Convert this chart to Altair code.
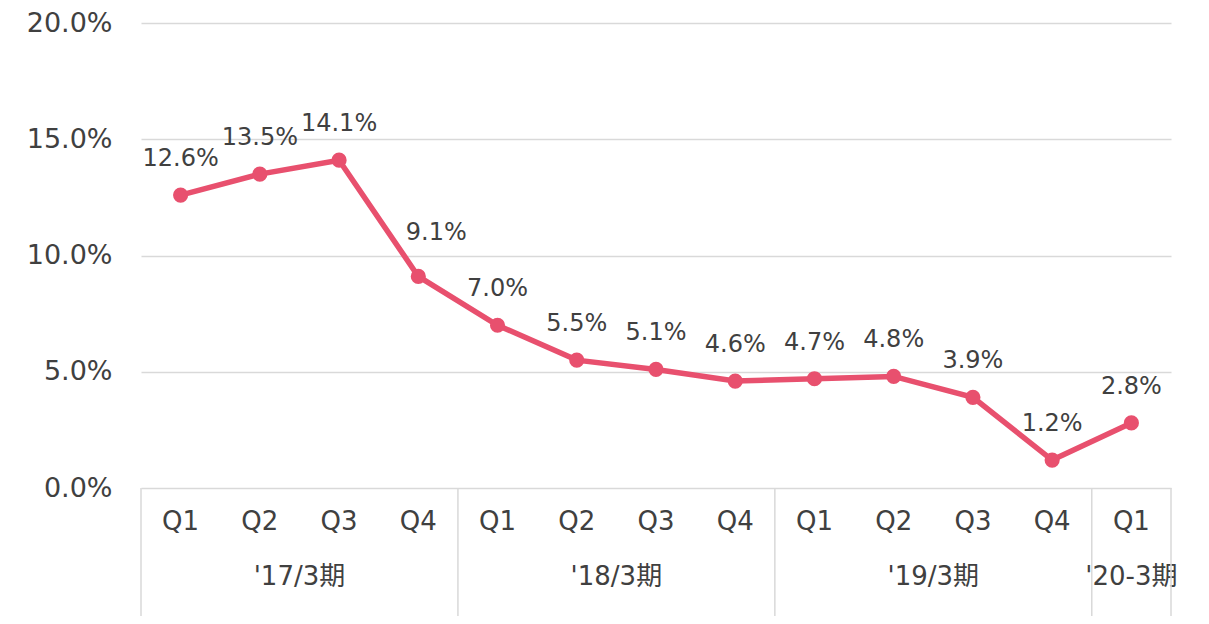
import altair as alt
import pandas as pd

quarters = ["Q1", "Q2", "Q3", "Q4", "Q1", "Q2", "Q3", "Q4", "Q1", "Q2", "Q3", "Q4", "Q1"]
values = [12.6, 13.5, 14.1, 9.1, 7.0, 5.5, 5.1, 4.6, 4.7, 4.8, 3.9, 1.2, 2.8]
groups = ["'17/3期", "'18/3期", "'19/3期", "'20-3期"]
group_sizes = [4, 4, 4, 1]

FONT = "DejaVu Sans, Noto Sans CJK JP"
TXT = "#404040"
LINE = "#E8506E"
W, H = 1030, 465

df = pd.DataFrame({
    "i": list(range(len(values))),
    "q": quarters,
    "v": [v / 100 for v in values],
    "lab": [f"{v:.1f}%" for v in values],
})

starts = []
s = 0
for n in group_sizes:
    starts.append(s)
    s += n
gdf = pd.DataFrame({
    "g": groups,
    "c": [st + (n - 1) / 2 for st, n in zip(starts, group_sizes)],
})
bdf = pd.DataFrame({"b": [st - 0.5 for st in starts] + [s - 0.5]})

xs = alt.Scale(domain=[-0.5, len(values) - 0.5], nice=False, zero=False)
ys = alt.Scale(domain=[0, 0.2], nice=False)

base = alt.Chart(df)

line = base.mark_line(color=LINE, strokeWidth=5.5).encode(
    x=alt.X("i:Q", scale=xs, axis=None),
    y=alt.Y("v:Q", scale=ys, axis=alt.Axis(
        format=".1%", values=[0, 0.05, 0.1, 0.15, 0.2], title=None,
        domain=False, ticks=False, labelPadding=29, labelFontSize=27,
        labelColor=TXT, labelFont=FONT, gridColor="#d9d9d9", gridWidth=1.5,
    )),
)
pts = base.mark_point(filled=True, size=230, color=LINE, opacity=1).encode(
    x=alt.X("i:Q", scale=xs), y=alt.Y("v:Q", scale=ys)
)
labels = base.transform_filter("datum.i != 3").mark_text(
    fontSize=24, font=FONT, color=TXT, baseline="middle", dy=-36
).encode(x=alt.X("i:Q", scale=xs), y=alt.Y("v:Q", scale=ys), text="lab:N")
label_q4 = base.transform_filter("datum.i == 3").mark_text(
    fontSize=24, font=FONT, color=TXT, baseline="middle", dy=-43, dx=18
).encode(x=alt.X("i:Q", scale=xs), y=alt.Y("v:Q", scale=ys), text="lab:N")
qlabels = base.mark_text(fontSize=26, font=FONT, color=TXT, baseline="middle").encode(
    x=alt.X("i:Q", scale=xs), y=alt.value(H + 34), text="q:N"
)
glabels = alt.Chart(gdf).mark_text(fontSize=26, font=FONT, color=TXT, baseline="middle").encode(
    x=alt.X("c:Q", scale=xs), y=alt.value(H + 89), text="g:N"
)
seps = alt.Chart(bdf).mark_rule(color="#d9d9d9", strokeWidth=1.5).encode(
    x=alt.X("b:Q", scale=xs), y=alt.value(H), y2=alt.value(H + 128)
)

chart = alt.layer(line, pts, labels, label_q4, qlabels, glabels, seps).properties(
    width=W, height=H,
    autosize=alt.AutoSizeParams(type="none"),
    padding={"left": 133, "top": 15, "right": 30, "bottom": 128},
).configure_view(stroke=None)

chart.save("out.html", embed_options={"renderer": "svg", "actions": False})
